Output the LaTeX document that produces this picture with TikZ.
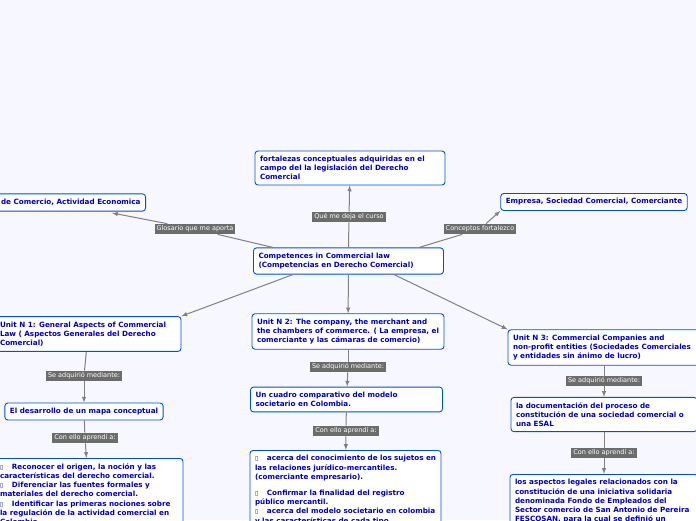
\documentclass[tikz,border=0pt]{standalone}
\usepackage{fontspec}
\setmainfont{DejaVu Sans}
\newfontfamily\symf{DejaVu Sans}
\begin{document}
\begin{tikzpicture}[x=1pt,y=-1pt,
 bx/.style={draw=blue!60!cyan!80!black,line width=0.9pt,fill=white,rounded corners=3pt,align=flush left,text=blue!70!black,font=\bfseries\fontsize{7.2}{9.2}\selectfont,inner sep=5pt},
 lb/.style={fill=gray!85!black,text=white,font=\fontsize{6.5}{8}\selectfont,inner sep=2pt},
 ln/.style={draw=gray,line width=1pt},
 ar/.style={ln,-latex}]
\fill[blue!3] (0,0) rectangle (696,520);
\useasboundingbox (0,0) rectangle (696,520);
\newcommand{\bul}{{\symf\fontsize{6}{8}\selectfont\char"25AF}\hspace{1.2em}}
\node[bx,text width=180pt] (root) at (348.5,261) {Competences in Commercial law\\(Competencias en Derecho Comercial)};
\node[bx,text width=180pt] (top) at (350,168) {fortalezas conceptuales adquiridas en el campo del la legislación del Derecho Comercial};
\node[bx,anchor=east] (lt) at (146,202.5) {Código de Comercio, Actividad Economica};
\node[bx] (rt) at (594,202) {Empresa, Sociedad Comercial, Comerciante};
\node[lb] (l1) at (195,229) {Glosario que me aporta};
\node[lb] (l2) at (349,217) {Qué me deja el curso};
\node[lb] (l3) at (480,229) {Conceptos fortalezco};
\node[bx,text width=176pt] (u1) at (88,334) {Unit N 1: General Aspects of Commercial Law ( Aspectos Generales del Derecho Comercial)};
\node[bx,text width=182pt] (u2) at (348,331.5) {Unit N 2: The company, the merchant and the chambers of commerce. (  La empresa, el comerciante y las cámaras de comercio)};
\node[bx,text width=182pt] (u3) at (604,347.5) {Unit N 3: Commercial Companies and non-profit entities (Sociedades Comerciales    y entidades sin ánimo de lucro)};
\node[lb] (s1) at (84,376) {Se adquirió mediante:};
\node[lb] (s2) at (348,367) {Se adquirió mediante:};
\node[lb] (s3) at (604,381) {Se adquirió mediante:};
\node[bx] (m1) at (84,411.5) {El desarrollo de un mapa conceptual};
\node[bx,text width=182pt] (m2) at (346.5,399.5) {Un cuadro comparativo del modelo societario   en   Colombia.};
\node[bx,text width=176pt] (m3) at (604,414.5) {la documentación del proceso de constitución de una sociedad comercial o una ESAL};
\node[lb] (c1) at (85,438) {Con ello aprendí a:};
\node[lb] (c2) at (346,431) {Con ello aprendí a:};
\node[lb] (c3) at (604,453) {Con ello aprendí a:};
\node[bx,text width=178pt,anchor=north] (b1) at (89,458) {\bul Reconocer el origen, la noción y las características del derecho comercial.\\\bul Diferenciar las fuentes formales y materiales del derecho comercial.\\\bul Identificar las primeras nociones sobre la regulación de la actividad comercial en Colombia.};
\node[bx,text width=181pt,anchor=north] (b2) at (345.5,450) {\bul acerca del conocimiento de los sujetos en las relaciones jurídico-mercantiles. (comerciante empresario).\\[7pt]\bul Confirmar la finalidad del registro público mercantil.\\\bul acerca del modelo societario en colombia y las características de cada tipo.};
\node[bx,text width=178pt,anchor=north] (b3) at (604,474) {los aspectos legales relacionados con la constitución de una iniciativa solidaria denominada Fondo de Empleados del Sector comercio de San Antonio de Pereira FESCOSAN, para la cual se definió un};
\draw[ln] (root.north) -- (l2); \draw[ar] (l2) -- (top);
\draw[ln] (root.north west)++(20,0) -- (l1); \draw[ar] (l1) -- (112,213);
\draw[ln] (root.north east)++(-25,0) -- (l3); \draw[ar] (l3) -- (rt.south west);
\draw[ar] (root.south west)++(40,0) -- (u1.north east);
\draw[ar] (root) -- (u2);
\draw[ar] (root.south east)++(-50,0) -- (u3.north west);
\foreach \a/\b/\c/\d/\e in {u1/s1/m1/c1/b1,u2/s2/m2/c2/b2,u3/s3/m3/c3/b3}{
 \draw[ln] (\a) -- (\b); \draw[ar] (\b) -- (\c); \draw[ln] (\c) -- (\d); \draw[ar] (\d) -- (\e);}
\end{tikzpicture}
\end{document}
